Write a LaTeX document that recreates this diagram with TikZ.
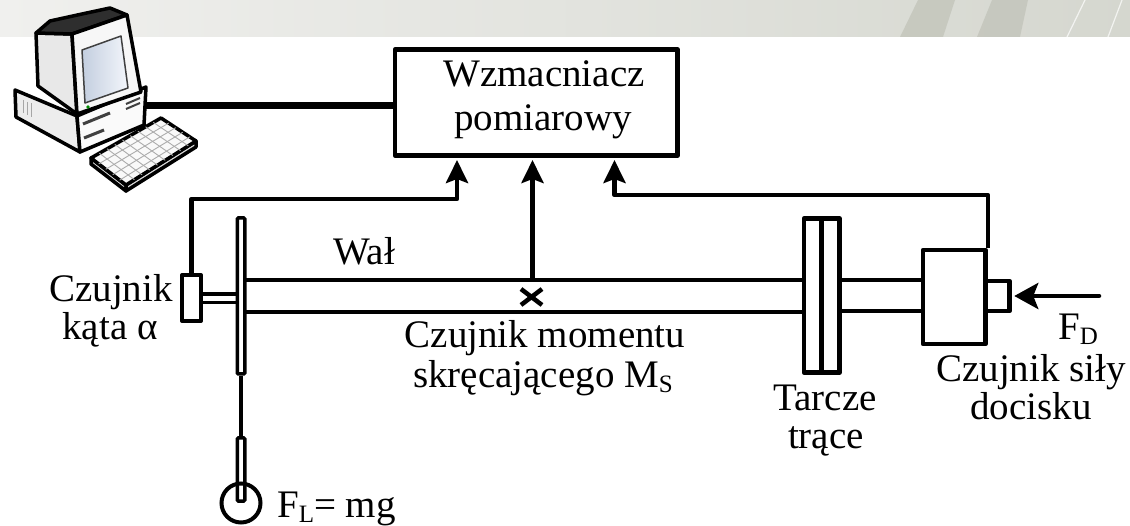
\documentclass[tikz,border=0pt]{standalone}
\usepackage{fontspec}
\setmainfont{Liberation Serif}
\usetikzlibrary{arrows.meta,calc}
\definecolor{bandL}{HTML}{F0F0EE}
\definecolor{bandR}{HTML}{D5D7CF}
\definecolor{stripe}{HTML}{C4C6BC}
\definecolor{screenA}{HTML}{C3CEDF}
\definecolor{screenB}{HTML}{F3F6FB}
\newcommand\lowsub[1]{\raisebox{-5pt}{\fontsize{25}{25}\selectfont #1}}
\tikzset{
  lbl/.style={inner sep=0pt, font=\fontsize{39}{44}\selectfont},
  wire/.style={line width=4.5pt, line join=round},
  part/.style={draw, line width=4.5pt, line join=round, fill=white, inner sep=0pt},
  tip/.style={-{Stealth[length=23pt,width=22pt,inset=4pt]}},
  pc/.style={draw=black, line width=3.5pt, line join=round},
  keyline/.style={draw=gray!65, line width=0.9pt},
  bar/.style={draw, line width=3.5pt, rounded corners=1pt, fill=white, inner sep=0pt},
}
\begin{document}
\begin{tikzpicture}[x=1pt,y=-1pt]
\useasboundingbox (0,0) rectangle (1130,526);

% header band with slanted stripes
\shade[left color=bandL,right color=bandR] (0,0) rectangle (1130,37);
\fill[stripe,opacity=.85] (900,37) -- (943,37) -- (955,0) -- (918,0) -- cycle;
\fill[stripe,opacity=.85] (977,37) -- (1020,37) -- (1028,0) -- (992,0) -- cycle;
\draw[white,line width=1.2pt,opacity=.7] (1067,37) -- (1085,0) (1108,37) -- (1122,0);
\draw[white,line width=1pt] (0,37.5) -- (1130,37.5);

% personal computer: case
\filldraw[pc, fill=gray!14] (15,90) -- (77,116) -- (80,152) -- (16,117) -- cycle;
\filldraw[pc, fill=gray!4] (77,116) -- (146,87) -- (144,125) -- (80,152) -- cycle;
\draw[gray!70, line width=1pt] (23,100) -- (23,113) (27,102) -- (27,115) (31,103) -- (31,117);
\draw[black!75, line width=3pt] (83,124) -- (110,113) (84,138) -- (104,130);
\draw[black!75, line width=2pt] (126,104) -- (140,98) (126,109) -- (140,103);
% monitor
\filldraw[pc, fill=gray!18] (36,33) -- (72,34) -- (77,114) -- (38,86) -- cycle;
\filldraw[pc, fill=black!82] (36,33) -- (50,21) -- (82,14) -- (110,8) -- (127,15) -- (72,34) -- cycle;
\filldraw[pc, fill=gray!6] (72,34) -- (127,15) -- (141,92) -- (77,114) -- cycle;
\shade[left color=screenA,right color=screenB] (82,50) -- (121,36) -- (128,88) -- (85,103) -- cycle;
\draw[black!75, line width=1.5pt, line join=round] (82,50) -- (121,36) -- (128,88) -- (85,103) -- cycle;
\fill[green!55!black] (88,107) circle (1.8);
% keyboard
\coordinate (k0) at (91,158);
\coordinate (k1) at (161,118);
\coordinate (k2) at (196,141);
\coordinate (k3) at (126,185);
\filldraw[pc, fill=gray!30] (k0) -- (k3) -- ($(k3)+(0,6)$) -- ($(k0)+(0,6)$) -- cycle;
\filldraw[pc, fill=gray!30] (k3) -- (k2) -- ($(k2)+(0,6)$) -- ($(k3)+(0,6)$) -- cycle;
\filldraw[pc, fill=gray!5] (k0) -- (k1) -- (k2) -- (k3) -- cycle;
\foreach \t in {0.22,0.42,0.62,0.82}
  \draw[keyline] ($(k0)!\t!(k3)$) -- ($(k1)!\t!(k2)$);
\foreach \t in {0.12,0.23,0.34,0.45,0.56,0.67,0.78,0.89}
  \draw[keyline] ($(k0)!\t!(k1)$) -- ($(k3)!\t!(k2)$);
\coordinate (pcport) at (146,105.5);

% measuring amplifier
\node[part, minimum width=282.5pt, minimum height=106pt] (amp) at (536.25,102.5) {};
\node[lbl, anchor=base] (amp1) at (544,87) {Wzmacniacz};
\node[lbl, anchor=base] (amp2) at (543,131) {pomiarowy};
\draw[line width=7pt] (pcport) -- (pcport -| amp.west);

% shaft
\draw[line width=4pt] (246,280) -- (804,280) (246,312) -- (804,312);
\draw[line width=4pt] (839.5,280.5) -- (923,280.5) (839.5,311.5) -- (923,311.5);
\node[lbl, anchor=base] (shaft) at (364,265) {Wał};

% angle sensor and pendulum
\node[part, line width=4pt, minimum width=19pt, minimum height=46pt] (angsens) at (191.5,298) {};
\draw[line width=3.5pt] (angsens.east |- 0,294) -- (238,294) (angsens.east |- 0,302.5) -- (238,302.5);
\node[bar, minimum width=7.5pt, minimum height=156pt] (penbar) at (241,296) {};
\node[bar, minimum width=7.5pt, minimum height=63pt] (penlow) at (241,469.5) {};
\draw[line width=3.5pt] (penbar.south) -- (penlow.north);
\node[draw, circle, line width=4pt, minimum size=39pt, inner sep=0pt] (mass) at (241,503) {};
\node[lbl, anchor=base] (ang1) at (111,302) {Czujnik};
\node[lbl, anchor=base] (ang2) at (110,340) {kąta α};
\node[lbl, anchor=base west] (fl) at (277,517) {F\lowsub{L}= mg};

% torque sensor mark
\coordinate (mtop) at (532.5,280);
\draw[line width=4.5pt] (521,289) -- (542,305) (521,305) -- (542,289);
\node[lbl, anchor=base] (tq1) at (545,348) {Czujnik momentu};
\node[lbl, anchor=base] (tq2) at (543,388) {skręcającego M\lowsub{S}};

% friction discs
\node[part, minimum width=17.5pt, minimum height=154pt] (disc1) at (812.75,295.5) {};
\node[part, minimum width=18pt, minimum height=154pt] (disc2) at (830.5,295.5) {};
\node[lbl, anchor=base] (tr1) at (825,410) {Tarcze};
\node[lbl, anchor=base] (tr2) at (826,448) {trące};

% pressure force sensor
\node[part, minimum width=62.5pt, minimum height=94pt] (fsens) at (954.25,297) {};
\node[part, minimum width=24pt, minimum height=30pt] (plunger) at (997.5,296) {};
\coordinate (fdstart) at (1099,296);
\draw[line width=4.5pt, line cap=round, -{Stealth[length=24pt,width=26pt,inset=5pt]}]
  (fdstart) -- ($(plunger.east)+(2.5,0)$);
\node[lbl, anchor=base west] (fd) at (1058,340) {F\lowsub{D}};
\node[lbl, anchor=base] (fs1) at (1031,382) {Czujnik siły};
\node[lbl, anchor=base] (fs2) at (1031,420) {docisku};

% signal lines to the amplifier
\coordinate (wL) at (457,199);
\coordinate (wR) at (614.5,195);
\draw[wire, tip] (angsens.north) |- (wL) -- ($(wL |- amp.south)+(0,2.25)$);
\draw[wire, tip] (mtop) -- ($(mtop |- amp.south)+(0,2.25)$);
\draw[wire, tip] (fsens.north east) |- (wR) -- ($(wR |- amp.south)+(0,2.25)$);
\end{tikzpicture}
\end{document}
